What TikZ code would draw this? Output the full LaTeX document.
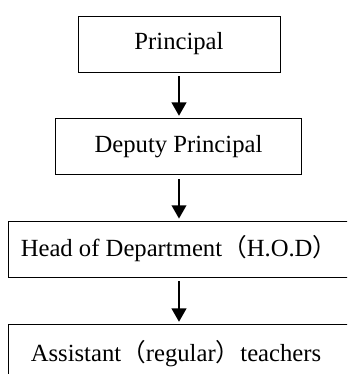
\documentclass[tikz,border=0pt]{standalone}
\usepackage{fontspec}
\setmainfont{Liberation Serif}
\newfontfamily\cjk{Noto Sans CJK SC}
\usetikzlibrary{arrows.meta}
\tikzset{
  post/.style={draw,line width=0.6pt,inner sep=0pt,align=center,
    font=\fontsize{18.5}{22}\selectfont},
  down/.style={line width=1.4pt,-{Triangle[width=11pt,length=10pt]},
    shorten <=3pt,shorten >=1.5pt}
}
\newcommand{\wpar}[1]{{\cjk （}#1{\cjk ）}}
\begin{document}
\begin{tikzpicture}[x=0.75pt,y=0.75pt,yscale=-1,xscale=1]
  \useasboundingbox (0,0) rectangle (347,374);
  \clip (0,0) rectangle (347,374);

  % Boxes
  \node [post,minimum width=151.5pt,minimum height=42pt] (prin) at (179,44) {Principal};
  \node [post,minimum width=185pt,minimum height=42.5pt] (dep) at (178.5,146.5) {Deputy Principal};
  \node [post,minimum width=270pt,minimum height=42pt] (hod) at (188,249) {};
  \node [post,minimum width=270pt,minimum height=42.5pt] (asst) at (188,352.5) {};

  % Text Node
  \node [post,draw=none] (hodtxt) at (179,249) {Head of Department\wpar{H.O.D}};
  % Text Node
  \node [post,draw=none] (assttxt) at (176,354) {Assistant\wpar{regular}teachers};

  % Arrows
  \draw [down] (prin.south -| 179,0) -- (dep.north -| 179,0);
  \draw [down] (dep.south -| 179,0) -- (hod.north -| 179,0);
  \draw [down] (hod.south -| 179,0) -- (asst.north -| 179,0);
\end{tikzpicture}
\end{document}
